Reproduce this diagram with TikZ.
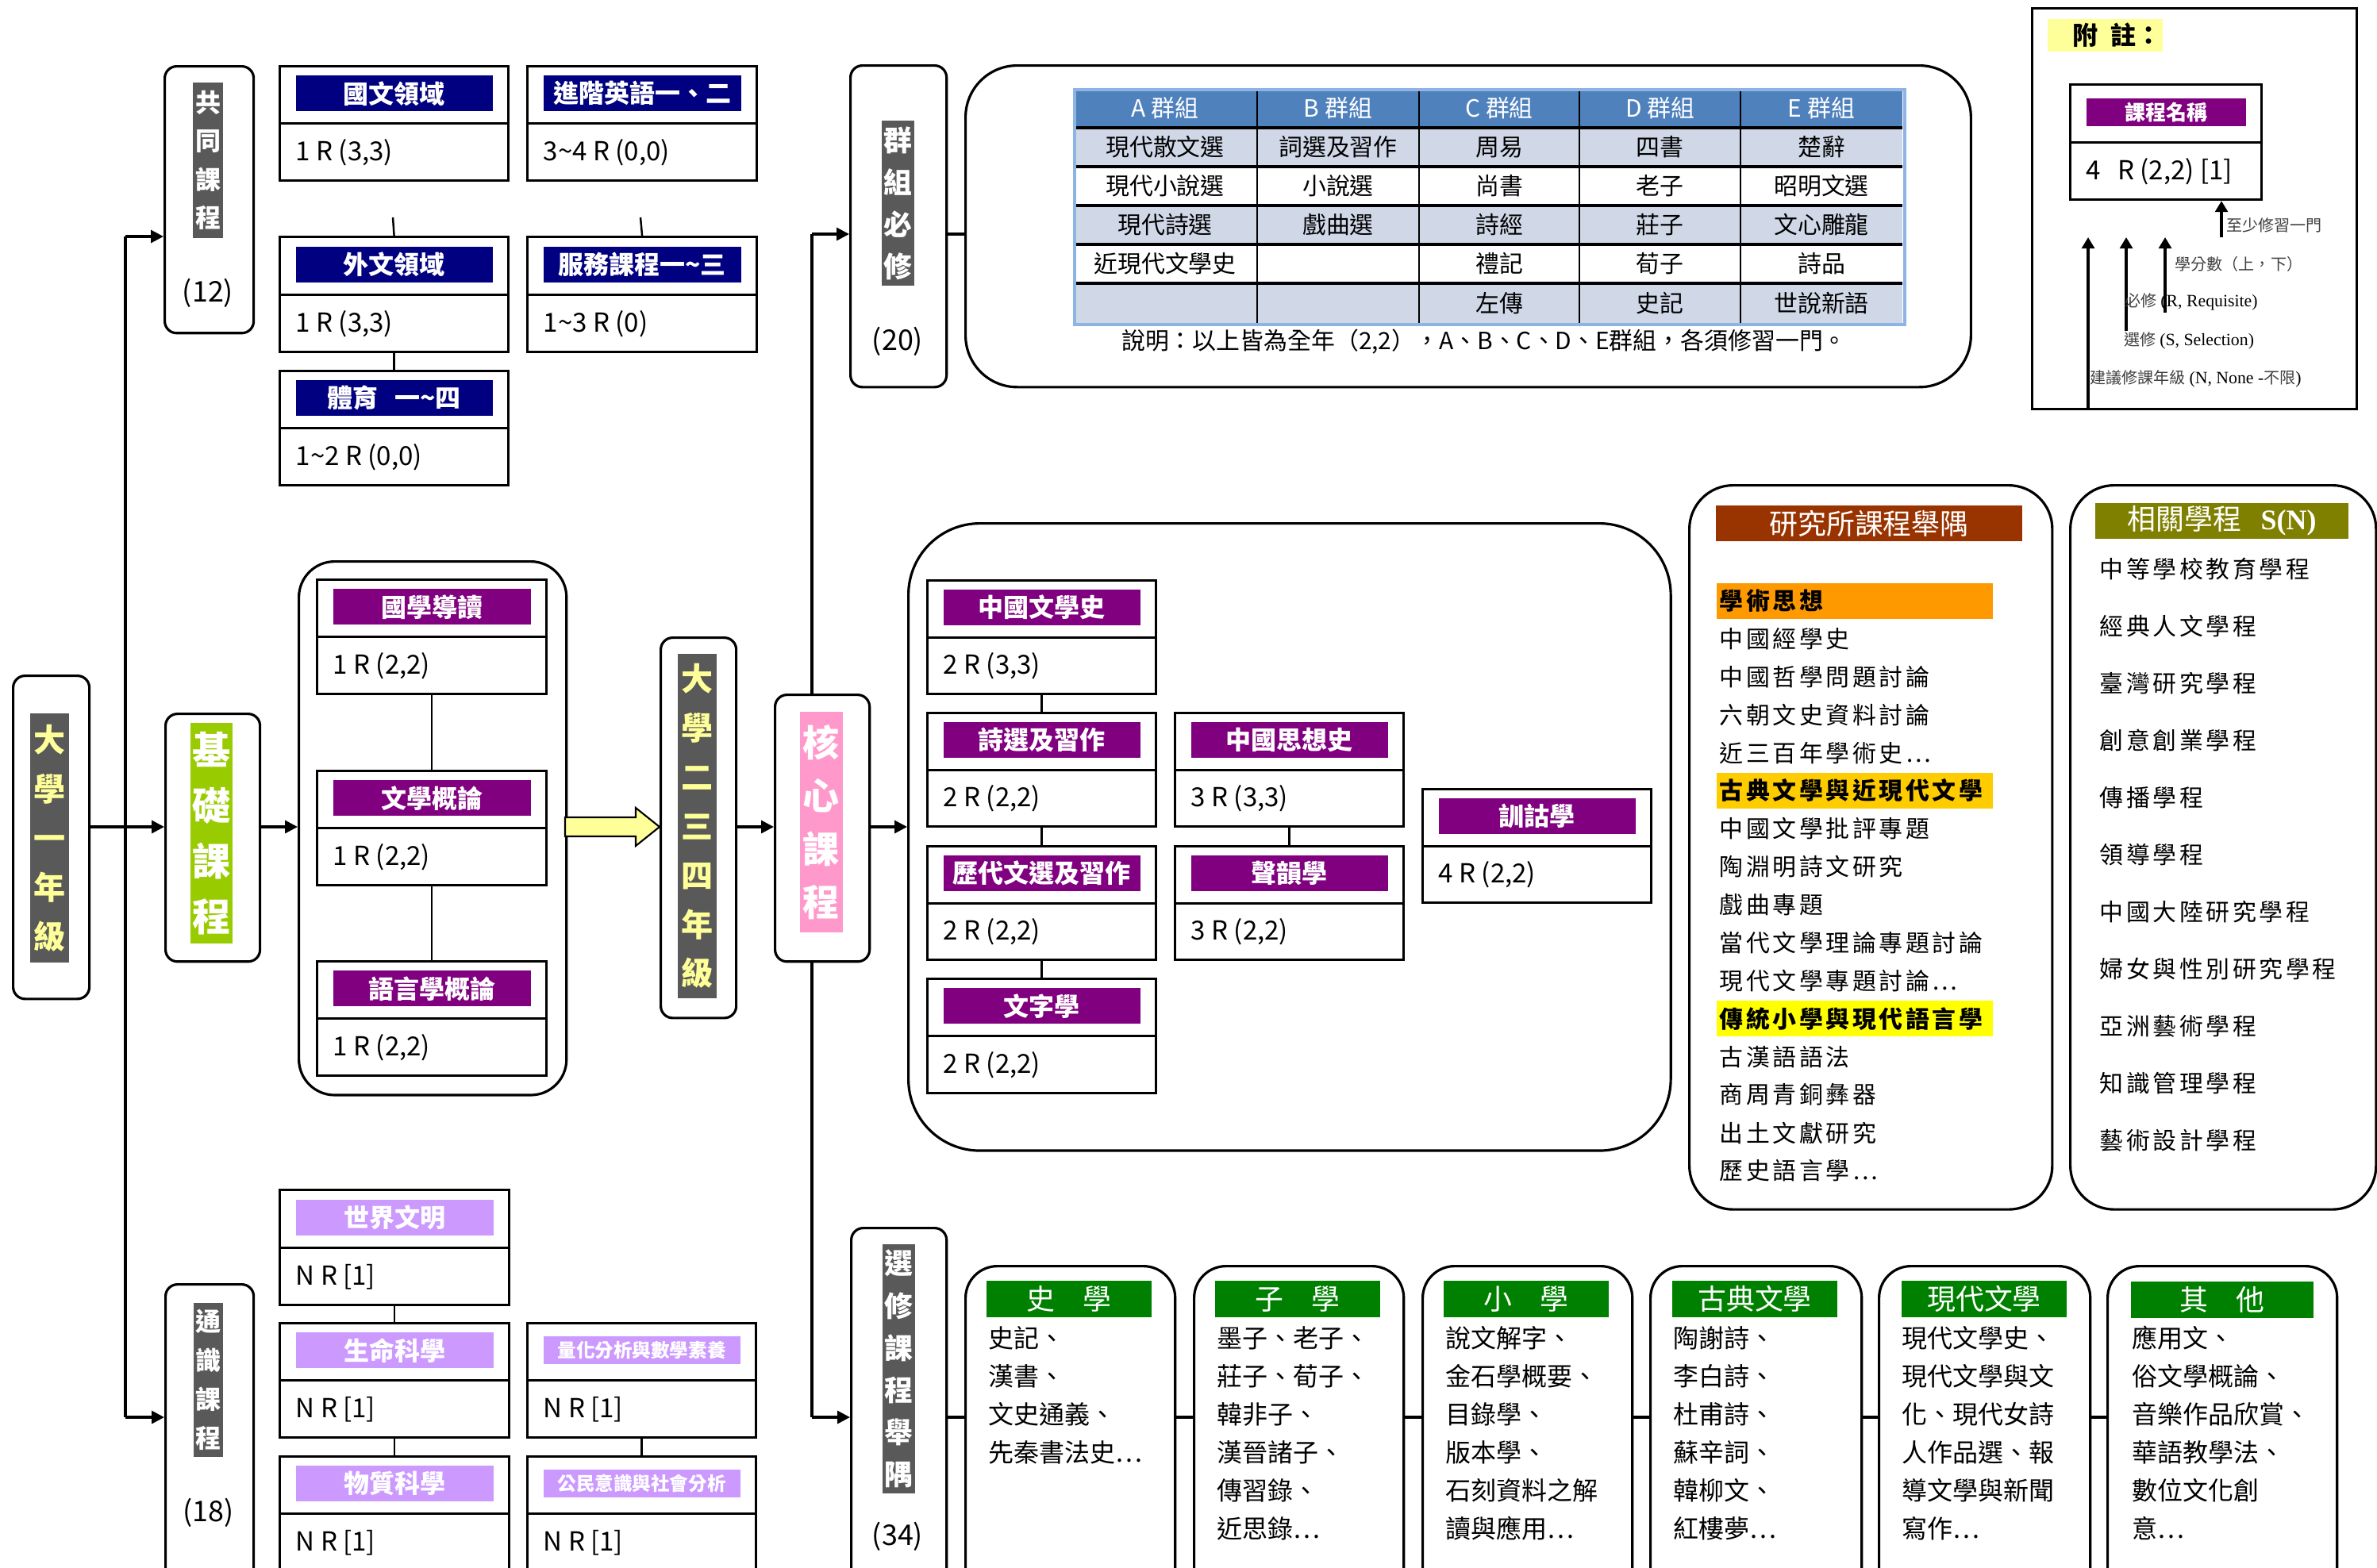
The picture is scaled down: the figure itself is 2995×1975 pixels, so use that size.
\documentclass[tikz,border=0pt]{standalone}
\usepackage{fontspec}
\setmainfont{Noto Sans CJK TC}
\newfontfamily\tms{Liberation Serif}
\newfontfamily\cjkls[LetterSpace=12]{Noto Sans CJK TC}
\usetikzlibrary{arrows.meta,calc}
\definecolor{navyh}{HTML}{000080}
\definecolor{purph}{HTML}{800080}
\definecolor{lav}{HTML}{CC99FF}
\definecolor{grayb}{HTML}{595959}
\definecolor{lyel}{HTML}{FFFF99}
\definecolor{limeg}{HTML}{99CC00}
\definecolor{pinkc}{HTML}{FF99CC}
\definecolor{tblue}{HTML}{4F81BD}
\definecolor{tlight}{HTML}{D0D8E8}
\definecolor{tborder}{HTML}{8EB4E3}
\definecolor{brownr}{HTML}{993300}
\definecolor{oliveg}{HTML}{808000}
\definecolor{orng}{HTML}{FF9900}
\definecolor{goldh}{HTML}{FFCC00}
\definecolor{yelh}{HTML}{FFFF00}
\definecolor{grnh}{HTML}{008000}
\definecolor{notegray}{HTML}{404040}
\newcommand\cbox[8]{%
  \node[cbx, minimum width={#4*0.01cm}, minimum height={#5*0.01cm}, anchor=north west] (#1) at (#2,#3) {};
  \draw[cbline] (#1.west) -- (#1.east);
  \node[#6, minimum width={(#4-40)*0.01cm}] (#1h) at ($(#1.north)!0.5!(#1.center)+(0,-1)$) {#7};
  \node[ctext, anchor=west] (#1t) at ($(#1.west)!0.5!(#1.south west)+(21,0)$) {#8};
}
\begin{document}
\begin{tikzpicture}[x=0.01cm,y=-0.01cm,
  cbx/.style={draw,line width=0.9pt,fill=white,inner sep=0pt,rectangle},
  cbline/.style={line width=0.9pt},
  ctext/.style={font=\fontsize{9.4pt}{11pt}\selectfont,inner sep=0pt},
  hbase/.style={text=white,inner sep=0pt,minimum height=0.45cm,font=\bfseries\fontsize{9.1pt}{10pt}\selectfont},
  hdN/.style={hbase,fill=navyh},
  hdP/.style={hbase,fill=purph},
  hdL/.style={hbase,fill=lav},
  hdLs/.style={hbase,fill=lav,minimum height=0.35cm,font=\bfseries\fontsize{6.7pt}{7pt}\selectfont},
  hdPs/.style={hbase,fill=purph,minimum height=0.35cm,font=\bfseries\fontsize{7.4pt}{8pt}\selectfont},
  lbox/.style={draw,line width=0.9pt,rounded corners=0.15cm,fill=white,inner sep=0pt,anchor=north west},
  band/.style={inner sep=0pt,align=center},
  numlab/.style={inner sep=0pt,font=\fontsize{10.2pt}{11pt}\selectfont},
  conn/.style={line width=0.7pt},
  trunk/.style={line width=0.9pt},
  arr/.style={line width=0.9pt,-{Triangle[length=4.5pt,width=4.5pt]}},
  uarr/.style={line width=1.1pt,-{Triangle[length=4pt,width=4.5pt]}},
  cont/.style={draw,line width=0.9pt,inner sep=0pt,anchor=north west,fill=white},
  ebox/.style={cont,rounded corners=0.4cm},
  hdG/.style={fill=grnh,text=white,inner sep=0pt,minimum height=0.46cm,font=\fontsize{10.2pt}{11pt}\selectfont},
  elitem/.style={inner sep=0pt,anchor=west,font=\fontsize{9.1pt}{10pt}\selectfont},
  litem/.style={inner sep=0pt,anchor=west,font=\cjkls\fontsize{8.5pt}{10pt}\selectfont},
  notel/.style={inner sep=0pt,anchor=west,text=notegray,font=\fontsize{5.7pt}{6pt}\selectfont},
  tcell/.style={inner sep=0pt,font=\fontsize{8.5pt}{9pt}\selectfont}
]
\useasboundingbox (0,0) rectangle (2995,1975);
\clip (0,0) rectangle (2995,1975);

% trunk lines
\coordinate (my) at (0,1042);
\coordinate (va) at (158,298);
\coordinate (vb) at (158,1786);
\draw[trunk] (va) -- (vb);
\coordinate (vc) at (1023,295);
\coordinate (vd) at (1023,1786);
\draw[trunk] (vc) -- (vd);

% first year
\node[lbox, minimum width=0.96cm, minimum height=4.07cm] (y1) at (15,850) {};
\node[band, fill=grayb, text=lyel, minimum width=0.49cm, minimum height=3.13cm, font=\bfseries\fontsize{11.4pt}{17.6pt}\selectfont] (y1b) at (62.5,1056) {大\\學\\一\\年\\級};

% common courses
\node[lbox, minimum width=1.12cm, minimum height=3.36cm] (gong) at (206,82) {};
\node[band, fill=grayb, text=white, minimum width=0.38cm, minimum height=1.95cm, font=\bfseries\fontsize{9.1pt}{13.7pt}\selectfont] (gongb) at (262,202) {共\\同\\課\\程};
\node[numlab] (gongn) at (262,369) {(12)};
\draw[arr] (va) -- (va -| gong.west);

\cbox{guowen}{351}{82}{288}{144}{hdN}{國文領域}{1 R (3,3)}
\cbox{yingyu}{663}{82}{289}{144}{hdN}{進階英語一、二}{3\textasciitilde 4 R (0,0)}
\cbox{waiwen}{351}{297}{288}{145}{hdN}{外文領域}{1 R (3,3)}
\cbox{fuwu}{663}{297}{289}{145}{hdN}{服務課程一\textasciitilde 三}{1\textasciitilde 3 R (0)}
\cbox{tiyu}{351}{466}{288}{144}{hdN}{體育\hspace{6pt}一\textasciitilde 四}{1\textasciitilde 2 R (0,0)}
\coordinate (s1) at (495,274);
\coordinate (s2) at (807,274);
\draw[conn] (s1) -- (waiwen.north);
\draw[conn] (s2) -- (fuwu.north);
\draw[conn] (waiwen.south) -- (tiyu.north);

% basic courses
\node[lbox, minimum width=1.19cm, minimum height=3.12cm] (jichu) at (207,898) {};
\node[band, fill=limeg, text=white, minimum width=0.53cm, minimum height=2.78cm, font=\bfseries\fontsize{13.7pt}{19.9pt}\selectfont] (jichub) at (266.5,1050) {基\\礎\\課\\程};
\draw[arr] (y1.east |- my) -- (jichu.west |- my);

\node[cont, rounded corners=0.45cm, minimum width=3.37cm, minimum height=6.72cm] (jcont) at (375,706) {};
\draw[arr] (jichu.east |- my) -- (jcont.west |- my);
\cbox{guoxue}{398}{729}{289}{144}{hdP}{國學導讀}{1 R (2,2)}
\cbox{wenxue}{398}{970}{289}{144}{hdP}{文學概論}{1 R (2,2)}
\cbox{yuyan}{398}{1210}{289}{144}{hdP}{語言學概論}{1 R (2,2)}
\draw[conn] (guoxue.south) -- (wenxue.north);
\draw[conn] (wenxue.south) -- (yuyan.north);

% general education
\node[lbox, minimum width=1.11cm, minimum height=4.0cm] (tongshi) at (207,1617) {};
\node[band, fill=grayb, text=white, minimum width=0.37cm, minimum height=1.94cm, font=\bfseries\fontsize{9.1pt}{13.9pt}\selectfont] (tongshib) at (262.5,1739) {通\\識\\課\\程};
\node[numlab] (tongshin) at (262.5,1906) {(18)};
\draw[arr] (vb) -- (vb -| tongshi.west);
\cbox{shijie}{351}{1498}{289}{145}{hdL}{世界文明}{N R [1]}
\cbox{shengming}{351}{1666}{289}{144}{hdL}{生命科學}{N R [1]}
\cbox{lianghua}{663}{1666}{288}{144}{hdLs}{量化分析與數學素養}{N R [1]}
\cbox{wuzhi}{351}{1834}{289}{144}{hdL}{物質科學}{N R [1]}
\cbox{gongmin}{663}{1834}{288}{144}{hdLs}{公民意識與社會分析}{N R [1]}
\draw[conn] (shijie.south) -- (shengming.north);
\draw[conn] (shengming.south) -- (wuzhi.north);
\draw[conn] (lianghua.south) -- (gongmin.north);

% years 2-4
\node[lbox, minimum width=0.95cm, minimum height=4.79cm] (ersi) at (831,802) {};
\node[band, fill=grayb, text=lyel, minimum width=0.49cm, minimum height=4.34cm, font=\bfseries\fontsize{11.4pt}{17.6pt}\selectfont] (ersib) at (878.5,1041) {大\\學\\二\\三\\四\\年\\級};
\draw[fill=lyel, line width=0.6pt] (ersi.west |- my) -- ++(-30,24) -- ++(0,-12) -- ++(-89,0) -- ++(0,-24) -- ++(89,0) -- ++(0,-12) -- cycle;

% core
\node[lbox, minimum width=1.19cm, minimum height=3.36cm] (hexin) at (975,874) {};
\node[band, fill=pinkc, text=white, minimum width=0.54cm, minimum height=2.78cm, font=\bfseries\fontsize{13.1pt}{19.1pt}\selectfont] (hexinb) at (1035,1036) {核\\心\\課\\程};
\draw[arr] (ersi.east |- my) -- (hexin.west |- my);
\node[cont, rounded corners=0.9cm, minimum width=9.6cm, minimum height=7.9cm] (ccont) at (1143,658) {};
\draw[arr] (hexin.east |- my) -- (ccont.west |- my);
\cbox{zgwxs}{1167}{730}{288}{143}{hdP}{中國文學史}{2 R (3,3)}
\cbox{shixuan}{1167}{897}{288}{143}{hdP}{詩選及習作}{2 R (2,2)}
\cbox{lidai}{1167}{1065}{288}{143}{hdP}{歷代文選及習作}{2 R (2,2)}
\cbox{wenzi}{1167}{1232}{288}{144}{hdP}{文字學}{2 R (2,2)}
\cbox{sixiang}{1479}{897}{288}{143}{hdP}{中國思想史}{3 R (3,3)}
\cbox{shengyun}{1479}{1065}{288}{143}{hdP}{聲韻學}{3 R (2,2)}
\cbox{xungu}{1791}{993}{288}{143}{hdP}{訓詁學}{4 R (2,2)}
\draw[conn] (zgwxs.south) -- (shixuan.north);
\draw[conn] (shixuan.south) -- (lidai.north);
\draw[conn] (lidai.south) -- (wenzi.north);
\draw[conn] (sixiang.south) -- (shengyun.north);

% group required
\node[lbox, minimum width=1.21cm, minimum height=4.05cm] (qunzu) at (1070,81) {};
\node[band, fill=grayb, text=white, minimum width=0.41cm, minimum height=2.07cm, font=\bfseries\fontsize{10.2pt}{15.1pt}\selectfont] (qunzub) at (1131.5,256) {群\\組\\必\\修};
\node[numlab] (qunzun) at (1131,430) {(20)};
\draw[arr] (vc) -- (vc -| qunzu.west);
\node[cont, rounded corners=0.65cm, minimum width=12.66cm, minimum height=4.05cm] (qcont) at (1215,81) {};
\draw[trunk] (qunzu.east |- vc) -- (qcont.west |- vc);

\fill[tblue] (1352,111) rectangle (2397,161);
\fill[tlight] (1352,161) rectangle (2397,210);
\fill[tlight] (1352,259) rectangle (2397,308);
\fill[tlight] (1352,357) rectangle (2397,407);
\foreach \yy in {161,210,259,308,357} \draw[line width=1pt] (1352,\yy) -- (2397,\yy);
\foreach \xx in {1584,1788,1990,2193} \draw[line width=0.5pt] (\xx,111) -- (\xx,407);
\node[draw=tborder, line width=1.2pt, minimum width=10.45cm, minimum height=2.96cm, anchor=north west, inner sep=0pt] (tbl) at (1352,111) {};
\foreach \cx/\tx [count=\nn] in {1468/A 群組,1686/B 群組,1889/C 群組,2091.5/D 群組,2295/E 群組}
  \node[tcell, text=white] (th-\nn) at (\cx,136) {\tx};
\foreach \cx/\tx [count=\nn] in {1468/現代散文選,1686/詞選及習作,1889/周易,2091.5/四書,2295/楚辭}
  \node[tcell] (ra-\nn) at (\cx,185.5) {\tx};
\foreach \cx/\tx [count=\nn] in {1468/現代小說選,1686/小說選,1889/尚書,2091.5/老子,2295/昭明文選}
  \node[tcell] (rb-\nn) at (\cx,234.5) {\tx};
\foreach \cx/\tx [count=\nn] in {1468/現代詩選,1686/戲曲選,1889/詩經,2091.5/莊子,2295/文心雕龍}
  \node[tcell] (rc-\nn) at (\cx,283.5) {\tx};
\foreach \cx/\tx [count=\nn] in {1468/近現代文學史,1889/禮記,2091.5/荀子,2295/詩品}
  \node[tcell] (rd-\nn) at (\cx,332.5) {\tx};
\foreach \cx/\tx [count=\nn] in {1889/左傳,2091.5/史記,2295/世說新語}
  \node[tcell] (re-\nn) at (\cx,382) {\tx};
\node[tcell] (caption) at (1870,431) {說明：以上皆為全年（2,2），A、B、C、D、E群組，各須修習一門。};

% electives
\node[lbox, minimum width=1.2cm, minimum height=4.6cm] (xuanxiu) at (1071,1546) {};
\node[band, fill=grayb, text=white, minimum width=0.41cm, minimum height=3.13cm, font=\bfseries\fontsize{10.2pt}{15.1pt}\selectfont] (xuanxiub) at (1132.5,1725) {選\\修\\課\\程\\舉\\隅};
\node[numlab] (xuanxiun) at (1131,1936) {(34)};
\draw[arr] (vd) -- (vd -| xuanxiu.west);

\node[ebox, minimum width=2.64cm, minimum height=4.2cm] (e1) at (1215,1594) {};
\node[ebox, minimum width=2.64cm, minimum height=4.2cm] (e2) at (1503,1594) {};
\node[ebox, minimum width=2.64cm, minimum height=4.2cm] (e3) at (1791,1594) {};
\node[ebox, minimum width=2.66cm, minimum height=4.2cm] (e4) at (2078,1594) {};
\node[ebox, minimum width=2.66cm, minimum height=4.2cm] (e5) at (2366,1594) {};
\node[ebox, minimum width=2.89cm, minimum height=4.2cm] (e6) at (2654,1594) {};
\draw[trunk] (xuanxiu.east |- vd) -- (e1.west |- vd);
\draw[trunk] (e1.east |- vd) -- (e2.west |- vd);
\draw[trunk] (e2.east |- vd) -- (e3.west |- vd);
\draw[trunk] (e3.east |- vd) -- (e4.west |- vd);
\draw[trunk] (e4.east |- vd) -- (e5.west |- vd);
\draw[trunk] (e5.east |- vd) -- (e6.west |- vd);
\node[hdG, minimum width=2.08cm] (e1h) at (1347,1637) {史　學};
\node[hdG, minimum width=2.08cm] (e2h) at (1635,1637) {子　學};
\node[hdG, minimum width=2.08cm] (e3h) at (1923,1637) {小　學};
\node[hdG, minimum width=2.08cm] (e4h) at (2211,1637) {古典文學};
\node[hdG, minimum width=2.08cm] (e5h) at (2500,1637) {現代文學};
\node[hdG, minimum width=2.30cm] (e6h) at (2800,1638) {其　他};
\foreach \tx [count=\nn] in {史記、,漢書、,文史通義、,先秦書法史…}
  \node[elitem] (e1-\nn) at (1245,{1638+48*\nn}) {\tx};
\foreach \tx [count=\nn] in {墨子、老子、,莊子、荀子、,韓非子、,漢晉諸子、,傳習錄、,近思錄…}
  \node[elitem] (e2-\nn) at (1533,{1638+48*\nn}) {\tx};
\foreach \tx [count=\nn] in {說文解字、,金石學概要、,目錄學、,版本學、,石刻資料之解,讀與應用…}
  \node[elitem] (e3-\nn) at (1821,{1638+48*\nn}) {\tx};
\foreach \tx [count=\nn] in {陶謝詩、,李白詩、,杜甫詩、,蘇辛詞、,韓柳文、,紅樓夢…}
  \node[elitem] (e4-\nn) at (2108,{1638+48*\nn}) {\tx};
\foreach \tx [count=\nn] in {現代文學史、,現代文學與文,化、現代女詩,人作品選、報,導文學與新聞,寫作…}
  \node[elitem] (e5-\nn) at (2396,{1638+48*\nn}) {\tx};
\foreach \tx [count=\nn] in {應用文、,俗文學概論、,音樂作品欣賞、,華語教學法、,數位文化創,意…}
  \node[elitem] (e6-\nn) at (2686,{1638+48*\nn}) {\tx};

% graduate courses
\node[cont, rounded corners=0.55cm, minimum width=4.57cm, minimum height=9.12cm] (yjs) at (2127,610) {};
\node[fill=brownr, text=white, inner sep=0pt, minimum width=3.86cm, minimum height=0.45cm, font=\fontsize{10.2pt}{11pt}\selectfont] (yjsh) at (2355,659.5) {研究所課程舉隅};
\node[fill=orng, inner sep=0pt, minimum width=3.48cm, minimum height=0.45cm, anchor=west] (hl1) at (2162,757) {};
\node[fill=goldh, inner sep=0pt, minimum width=3.48cm, minimum height=0.45cm, anchor=west] (hl2) at (2162,996.5) {};
\node[fill=yelh, inner sep=0pt, minimum width=3.48cm, minimum height=0.45cm, anchor=west] (hl3) at (2162,1283.9) {};
\foreach \tx [count=\nn] in {{\bfseries 學術思想},中國經學史,中國哲學問題討論,六朝文史資料討論,近三百年學術史…,{\bfseries 古典文學與近現代文學},中國文學批評專題,陶淵明詩文研究,戲曲專題,當代文學理論專題討論,現代文學專題討論…,{\bfseries 傳統小學與現代語言學},古漢語語法,商周青銅彝器,出土文獻研究,歷史語言學…}
  \node[litem] (yl-\nn) at (2166,{757+47.9*(\nn-1)}) {\tx};

% related programs
\node[cont, rounded corners=0.55cm, minimum width=3.85cm, minimum height=9.12cm] (xg) at (2607,610) {};
\node[fill=oliveg, text=white, inner sep=0pt, minimum width=3.19cm, minimum height=0.45cm, font=\fontsize{10.2pt}{11pt}\selectfont] (xgh) at (2799.5,656.5) {相關學程\hspace{7pt}{\tms\bfseries S(N)}};
\foreach \tx [count=\nn] in {中等學校教育學程,經典人文學程,臺灣研究學程,創意創業學程,傳播學程,領導學程,中國大陸研究學程,婦女與性別研究學程,亞洲藝術學程,知識管理學程,藝術設計學程}
  \node[litem] (xl-\nn) at (2645,{717+72*(\nn-1)}) {\tx};

% legend
\node[draw, line width=0.8pt, minimum width=4.09cm, minimum height=5.05cm, anchor=north west, inner sep=0pt] (note) at (2559,9) {};
\node[fill=lyel, minimum width=1.45cm, minimum height=0.41cm, anchor=north west, inner sep=0pt] (notelab) at (2579,23) {};
\node[font=\bfseries\fontsize{9.1pt}{10pt}\selectfont, anchor=west, inner sep=0pt] (notetxt) at (2611,44) {附\hspace{4.5pt}註：};
\cbox{legend}{2607}{105}{241}{145}{hdPs}{課程名稱}{4\hspace{6pt}R (2,2) [1]}
\coordinate (a1s) at (2799,299);
\coordinate (a2s) at (2728,394);
\coordinate (a2e) at (2728,299);
\coordinate (a3s) at (2679,417);
\coordinate (a3e) at (2679,299);
\coordinate (a4e) at (2631,299);
\draw[uarr] (a1s) -- (a1s |- legend.south);
\draw[uarr] (a2s) -- (a2e);
\draw[uarr] (a3s) -- (a3e);
\draw[uarr] (a4e |- note.south) -- (a4e);
\node[notel] (n1) at (2805,284) {至少修習一門};
\node[notel] (n2) at (2740,333) {學分數（上，下）};
\node[notel] (n3) at (2677,380) {必修 {\tms\fontsize{6.2pt}{7pt}\selectfont\color{black}(R, Requisite)}};
\node[notel] (n4) at (2676,429) {選修 {\tms\fontsize{6.2pt}{7pt}\selectfont\color{black}(S, Selection)}};
\node[notel] (n5) at (2633,477) {建議修課年級 {\tms\fontsize{6.2pt}{7pt}\selectfont\color{black}(N, None -}不限{\tms\fontsize{6.2pt}{7pt}\selectfont\color{black})}};
\end{tikzpicture}
\end{document}
